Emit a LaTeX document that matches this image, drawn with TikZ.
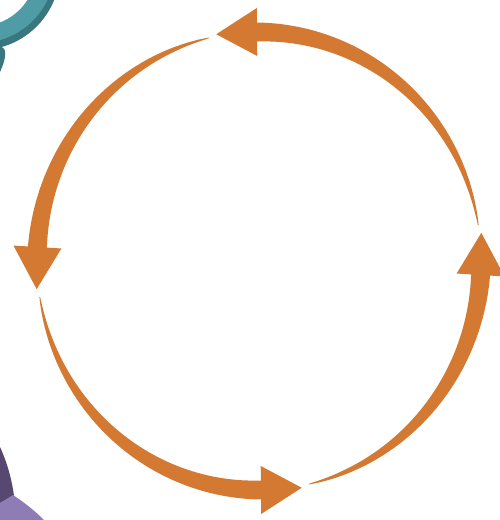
\documentclass[tikz,border=0pt]{standalone}
\definecolor{arcorange}{RGB}{211,121,50}
\definecolor{tealL}{RGB}{80,156,166}
\definecolor{tealD}{RGB}{58,118,127}
\definecolor{purpL}{RGB}{142,124,180}
\definecolor{purpD}{RGB}{86,72,112}
\tikzset{declare function={wd(\t,\a,\b)=0.6+18.4*(max(min((\t-\a)/(\b-\a),1),0.001))^0.8;}}
% #1 tail angle, #2 head base angle, #3 tip angle, #4 shaft end angle
\newcommand\orangearc[4]{%
  \fill[arcorange] plot[domain=#1:#4,samples=90,variable=\t]
     ({259+(222+wd(\t,#1,#2)/2)*cos(\t)},{261-(229+wd(\t,#1,#2)/2)*sin(\t)})
     -- plot[domain=#4:#1,samples=90,variable=\t]
     ({259+(222-wd(\t,#1,#2)/2)*cos(\t)},{261-(229-wd(\t,#1,#2)/2)*sin(\t)}) -- cycle;
  \fill[arcorange] ({259+224*cos(#3)},{261-231*sin(#3)})
     -- ({259+246*cos(#2)},{261-253*sin(#2)})
     -- ({259+198*cos(#2)},{261-205*sin(#2)}) -- cycle;
}
\begin{document}
\begin{tikzpicture}[x=1pt,y=-1pt]
\fill[white] (0,0) rectangle (500,520);
\useasboundingbox (0,0) rectangle (500,520);
\begin{scope}
\clip (0,0) rectangle (500,520);
% teal ring (top-left)
\fill[tealD] (-20,-30) circle[radius=80pt];
\fill[tealL] (-21,-33) circle[radius=76pt];
\fill[white] (-20,-30) circle[radius=56pt];
\fill[tealD] (0,46) .. controls (6,48) and (8,54) .. (0,72) -- cycle;
% purple ring (bottom-left)
\fill[purpD] (0,447) .. controls (7,462) and (12,480) .. (14,496) -- (0,503) -- cycle;
\fill[purpL] (0,503) -- (13,495) .. controls (25,503) and (35,511) .. (44,520) -- (0,520) -- cycle;
\end{scope}
% orange cycle arrows
\orangearc{283}{356.5}{367}{358}
\orangearc{9}{90.5}{101}{92}
\orangearc{103}{176.5}{187}{178}
\orangearc{189}{270.5}{281}{272}
\end{tikzpicture}
\end{document}
